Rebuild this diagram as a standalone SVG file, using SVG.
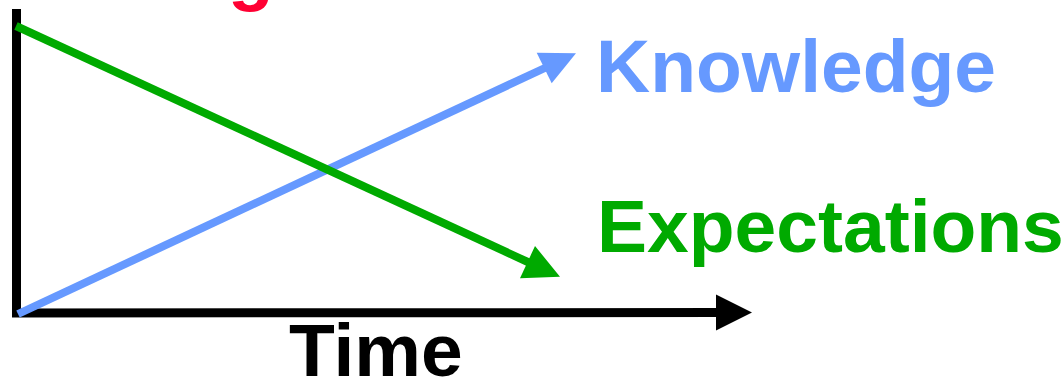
<svg xmlns="http://www.w3.org/2000/svg" width="1063" height="377" viewBox="0 0 1063 377">
  <style>
    .lbl { font-family: "Liberation Sans", Arial, sans-serif; font-weight: bold; font-size: 75px; }
  </style>
  <rect width="1063" height="377" fill="#fff"/>

  <g id="title">
    <text class="lbl" x="228" y="-3" fill="#FF0033">g</text>
  </g>

  <g id="connectors">
    <line id="y-axis" x1="16.5" y1="9" x2="16.5" y2="317" stroke="#000" stroke-width="9"/>
    <line id="x-axis" x1="12" y1="313" x2="720" y2="312.5" stroke="#000" stroke-width="9"/>
    <path d="M716,294.5 L752,312.5 L716,330.5 Z" fill="#000"/>
    <line id="knowledge-line" x1="18" y1="314" x2="547" y2="67" stroke="#6699FF" stroke-width="8"/>
    <path d="M536.7,52.7 L576,53.3 L551.7,83.3 Z" fill="#6699FF"/>
    <line id="expectations-line" x1="16" y1="26" x2="530" y2="263" stroke="#00AA00" stroke-width="8"/>
    <path d="M535,246 L560,276.7 L520,278.3 Z" fill="#00AA00"/>
  </g>

  <g id="knowledge">
    <text class="lbl" x="596" y="92" fill="#6699FF">Knowledge</text>
  </g>
  <g id="expectations">
    <text class="lbl" x="597" y="251.5" fill="#00AA00">Expectations</text>
  </g>
  <g id="time">
    <text class="lbl" x="289" y="376" fill="#000">Time</text>
  </g>
</svg>
